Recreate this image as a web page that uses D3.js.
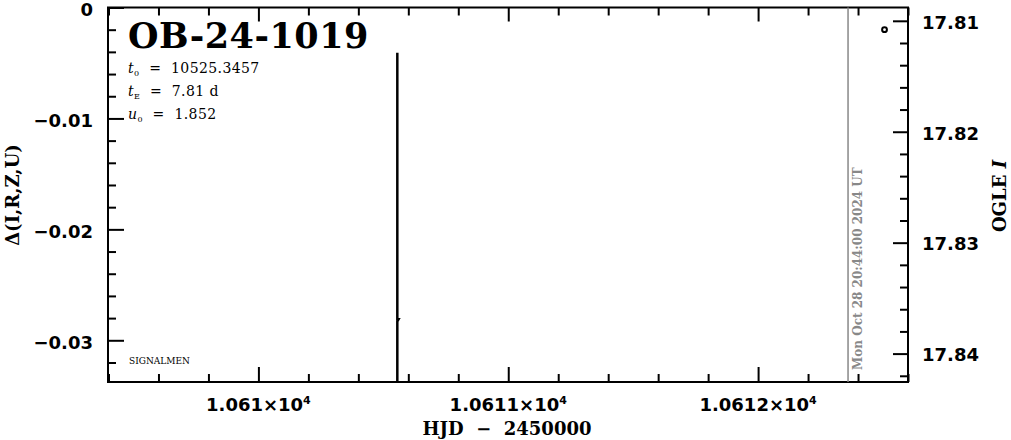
<!DOCTYPE html>
<html><head><meta charset="utf-8">
<script src="https://cdn.jsdelivr.net/npm/d3@7"></script>
<style>
body{margin:0;background:#fff;}
svg{display:block;}
text{white-space:pre;}
</style></head>
<body><svg id="c" width="1011" height="440"></svg>
<script>
// ---- data ----
const xDomain = [10609.398, 10612.6];
const deltaDomain = [0, -0.03376];
const magDomain = [17.8088, 17.84256];
const xTicks = [10610, 10611, 10612];
const xTickLabels = ["1.061×10", "1.0611×10", "1.0612×10"];
const xTickExp = "4";
const yTicks = [0, -0.01, -0.02, -0.03];
const yTickLabels = ["0", "−0.01", "−0.02", "−0.03"];
const magTicks = [17.81, 17.82, 17.83, 17.84];
const magTickLabels = ["17.81", "17.82", "17.83", "17.84"];
const obsHJD = [10612.506];
const obsMag = [17.8108];
const modelHJD = [10610.561, 10610.556, 10610.556, 10610.561, 10610.556, 10610.556];
const modelDelta = [-0.0042, -0.0042, -0.0281, -0.0281, -0.0283, -0.040];
const nowHJD = 10612.36;
const nowLabel = "Mon Oct 28 20:44:00 2024 UT";
const title = "OB-24-1019";
const params = [["t","0"," = 10525.3457"],["t","E"," = 7.81 d"],["u","0"," = 1.852"]];

// ---- layout ----
const L = 108, R = 908, T = 7.5, B = 382;
const svg = d3.select("#c");
const x = d3.scaleLinear().domain(xDomain).range([L, R]);
const y = d3.scaleLinear().domain(deltaDomain).range([T, B]);
const ym = d3.scaleLinear().domain(magDomain).range([T, B]);

const serif = "'DejaVu Serif', serif";
const sans = "'DejaVu Sans', sans-serif";

svg.append("clipPath").attr("id","pc").append("rect")
  .attr("x", L).attr("y", T).attr("width", R-L).attr("height", B-T);

function styleAxis(g){
  g.select(".domain").remove();
  g.selectAll(".tick line").attr("stroke","#000").attr("stroke-width",2);
  g.selectAll(".tick text").remove();
}
const xMinor = d3.range(10609.4, 10612.61, 0.2).filter(v => Math.abs(v - Math.round(v)) > 0.01);
const yMinor = d3.range(0, -0.0338, -0.002).filter(v => Math.abs(v*100 - Math.round(v*100)) > 0.01);
const mMinor = d3.range(17.81, 17.8426, 0.002).filter(v => Math.abs(v*100 - Math.round(v*100)) > 0.01 && v >= magDomain[0] && v <= magDomain[1]);

// bottom
svg.append("g").attr("transform",`translate(0,${B})`).call(d3.axisTop(x).tickValues(xTicks).tickSize(15)).call(styleAxis);
svg.append("g").attr("transform",`translate(0,${B})`).call(d3.axisTop(x).tickValues(xMinor).tickSize(8)).call(styleAxis);
// top
svg.append("g").attr("transform",`translate(0,${T})`).call(d3.axisBottom(x).tickValues(xTicks).tickSize(14)).call(styleAxis);
svg.append("g").attr("transform",`translate(0,${T})`).call(d3.axisBottom(x).tickValues(xMinor).tickSize(8)).call(styleAxis);
// left
svg.append("g").attr("transform",`translate(${L},0)`).call(d3.axisRight(y).tickValues(yTicks).tickSize(16)).call(styleAxis);
svg.append("g").attr("transform",`translate(${L},0)`).call(d3.axisRight(y).tickValues(yMinor).tickSize(8)).call(styleAxis);
// right
svg.append("g").attr("transform",`translate(${R},0)`).call(d3.axisLeft(ym).tickValues(magTicks).tickSize(15)).call(styleAxis);
svg.append("g").attr("transform",`translate(${R},0)`).call(d3.axisLeft(ym).tickValues(mMinor).tickSize(8)).call(styleAxis);

// frame
svg.append("rect").attr("x",L).attr("y",T).attr("width",R-L).attr("height",B-T)
  .attr("fill","none").attr("stroke","#000").attr("stroke-width",2);

// tick labels
xTicks.forEach((v,i)=>{
  const t = svg.append("text").attr("x", x(v)).attr("y", 411).attr("text-anchor","middle")
    .attr("font-family", sans).attr("font-weight","bold").attr("font-size", 18).attr("fill","#000");
  t.append("tspan").text(xTickLabels[i]);
  t.append("tspan").attr("font-size", 11).attr("dy", -7).text(xTickExp);
});
yTicks.forEach((v,i)=>{
  svg.append("text").attr("x", 93).attr("y", y(v) + 8.5).attr("text-anchor","end")
    .attr("font-family", sans).attr("font-weight","bold").attr("font-size", 18).attr("fill","#000").text(yTickLabels[i]);
});
magTicks.forEach((v,i)=>{
  svg.append("text").attr("x", 922).attr("y", ym(v) + 7.8).attr("text-anchor","start")
    .attr("font-family", sans).attr("font-weight","bold").attr("font-size", 18).attr("fill","#000").text(magTickLabels[i]);
});

// axis titles
svg.append("text").attr("x", 507).attr("y", 435).attr("text-anchor","middle")
  .attr("font-family", serif).attr("font-weight","bold").attr("font-size", 18).text("HJD  −  2450000");
svg.append("text").attr("transform","translate(19,195) rotate(-90)").attr("text-anchor","middle")
  .attr("font-family", serif).attr("font-weight","bold").attr("font-size", 18).text("Δ(I,R,Z,U)");
const og = svg.append("text").attr("transform","translate(1006,196) rotate(-90)").attr("text-anchor","middle")
  .attr("font-family", serif).attr("font-weight","bold").attr("font-size", 18);
og.append("tspan").text("OGLE ");
og.append("tspan").attr("font-style","italic").text("I");

// title + params
svg.append("text").attr("x", 128).attr("y", 48).attr("font-family", serif).attr("font-weight","bold")
  .attr("font-size", 35).attr("letter-spacing", 0.5).text(title);
params.forEach((p,i)=>{
  const t = svg.append("text").attr("x", 128).attr("y", 73 + i*23).attr("font-family", serif).attr("font-size", 14)
    .attr("letter-spacing", 0.4);
  t.append("tspan").attr("font-style","italic").text(p[0]);
  t.append("tspan").attr("font-size", 8).attr("dy", 3).text(p[1]);
  t.append("tspan").attr("dy", -3).text(p[2].replace(" = ", "  =  "));
});
svg.append("text").attr("x", 129).attr("y", 364).attr("font-family", serif).attr("font-size", 9).text("SIGNALMEN");

// current-time line
svg.append("line").attr("x1", x(nowHJD)).attr("x2", x(nowHJD)).attr("y1", T).attr("y2", B)
  .attr("stroke","#888").attr("stroke-width",1.5);
svg.append("text").attr("transform",`translate(${x(nowHJD)+14},370) rotate(-90)`)
  .attr("font-family", serif).attr("font-weight","bold").attr("font-size", 12).attr("fill","#888").text(nowLabel);

// model
const plot = svg.append("g").attr("clip-path","url(#pc)");
const line = d3.line().x(d=>x(d[0])).y(d=>y(d[1]));
plot.append("path").datum(modelHJD.map((h,i)=>[h, modelDelta[i]])).attr("d", line)
  .attr("fill","none").attr("stroke","#000").attr("stroke-width",2.5);

// observations
plot.selectAll("circle.obs").data(obsHJD.map((h,i)=>[h, obsMag[i]])).enter().append("circle")
  .attr("cx", d=>x(d[0])).attr("cy", d=>ym(d[1])).attr("r", 2.4)
  .attr("fill","#fff").attr("stroke","#000").attr("stroke-width",2);
</script></body></html>
